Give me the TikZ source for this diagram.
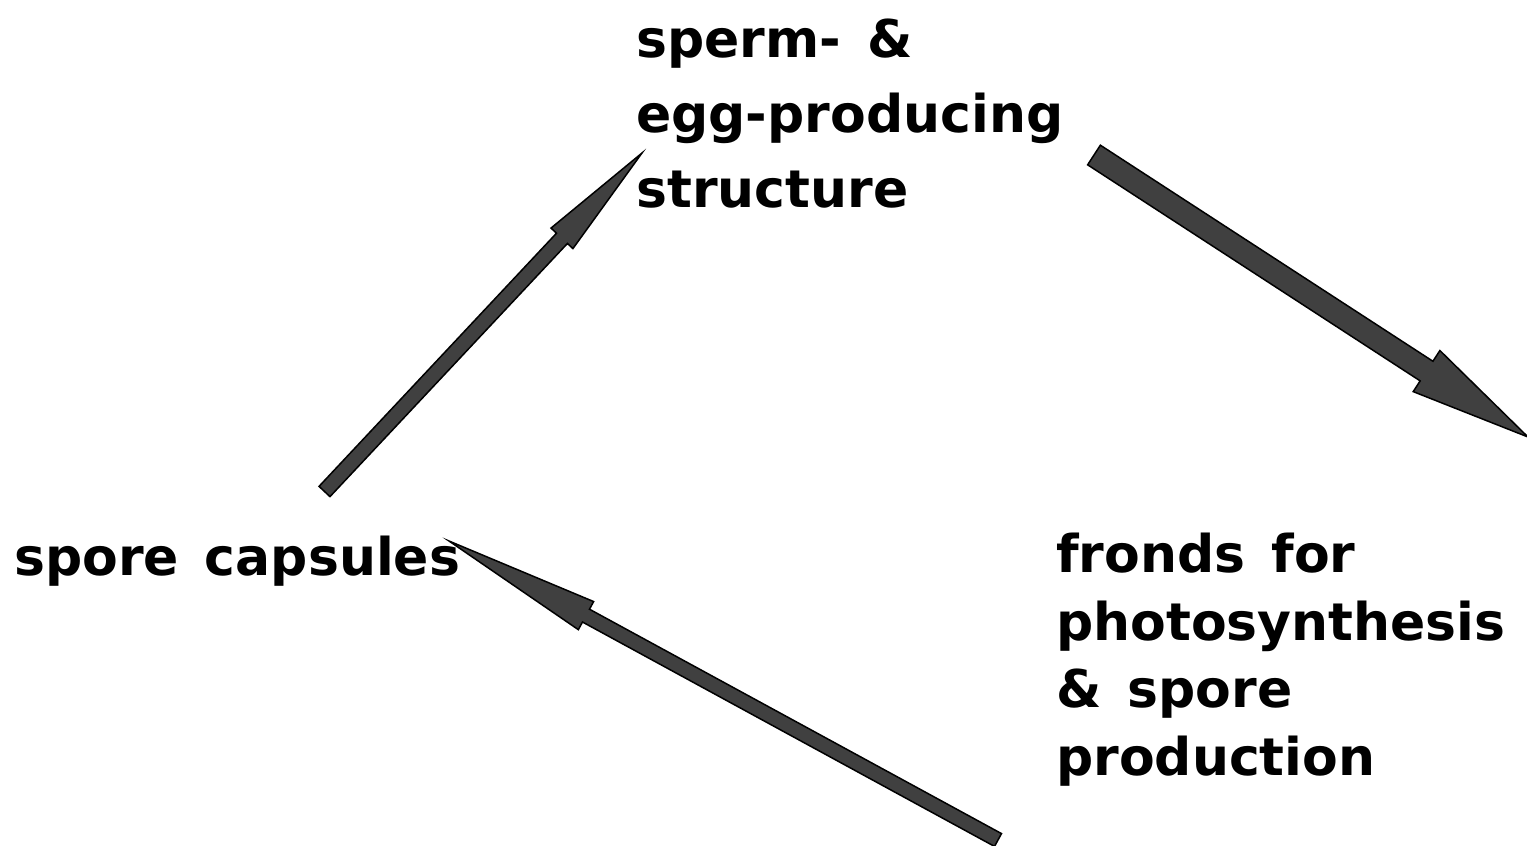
\documentclass[tikz,border=0pt]{standalone}
\usepackage{fontspec}
\setmainfont{DejaVu Sans}
\usetikzlibrary{calc}

\definecolor{arrowgrey}{RGB}{64,64,64}

% Block arrow: #1 tail, #2 tip, #3 shaft half width, #4 head half width, #5 head length
\newcommand\blockarrow[5]{%
  \coordinate (hb) at ($(#2)!#5!(#1)$);
  \draw[fatarrow]
    ($(#1)!#3!90:(#2)$) -- ($(hb)!#3!90:(#2)$) -- ($(hb)!#4!90:(#2)$) --
    (#2) --
    ($(hb)!#4!-90:(#2)$) -- ($(hb)!#3!-90:(#2)$) -- ($(#1)!#3!-90:(#2)$) -- cycle;
}

\tikzset{
  label text/.style={anchor=base west, inner sep=0pt, align=left,
    font=\bfseries\fontsize{52}{75}\selectfont,
    execute at begin node={\spaceskip=0.5em\relax}},
  fatarrow/.style={fill=arrowgrey, draw=black, line width=1.5pt, line join=miter}
}

\begin{document}
\begin{tikzpicture}[x=1pt, y=-1pt]
  \useasboundingbox (0,0) rectangle (1527,846);
  \clip (0,0) rectangle (1527,846);

  % stage labels (anchored on the baseline of their last line)
  \node[label text] (gameto) at (636,207) {sperm- \&\\egg-producing\\structure};
  \node[label text] (capsule) at (14,575) {spore capsules};
  \node[label text, font=\bfseries\fontsize{52}{67.5}\selectfont]
    (fronds) at (1056,775) {fronds for\\photosynthesis\\\& spore\\production};

  % arrow end points
  \coordinate (a1t) at (324.5,491.5);
  \coordinate (a1h) at (642,153);
  \coordinate (a2t) at (1094,155);
  \coordinate (a2h) at (1528,437);
  \coordinate (a3t) at (998,840);
  \coordinate (a3h) at (449,541);

  % cycle arrows
  \blockarrow{a1t}{a1h}{7.5pt}{15pt}{117pt}
  \blockarrow{a2t}{a2h}{11.7pt}{24.5pt}{121pt}
  \blockarrow{a3t}{a3h}{7.3pt}{16pt}{156pt}
\end{tikzpicture}
\end{document}
